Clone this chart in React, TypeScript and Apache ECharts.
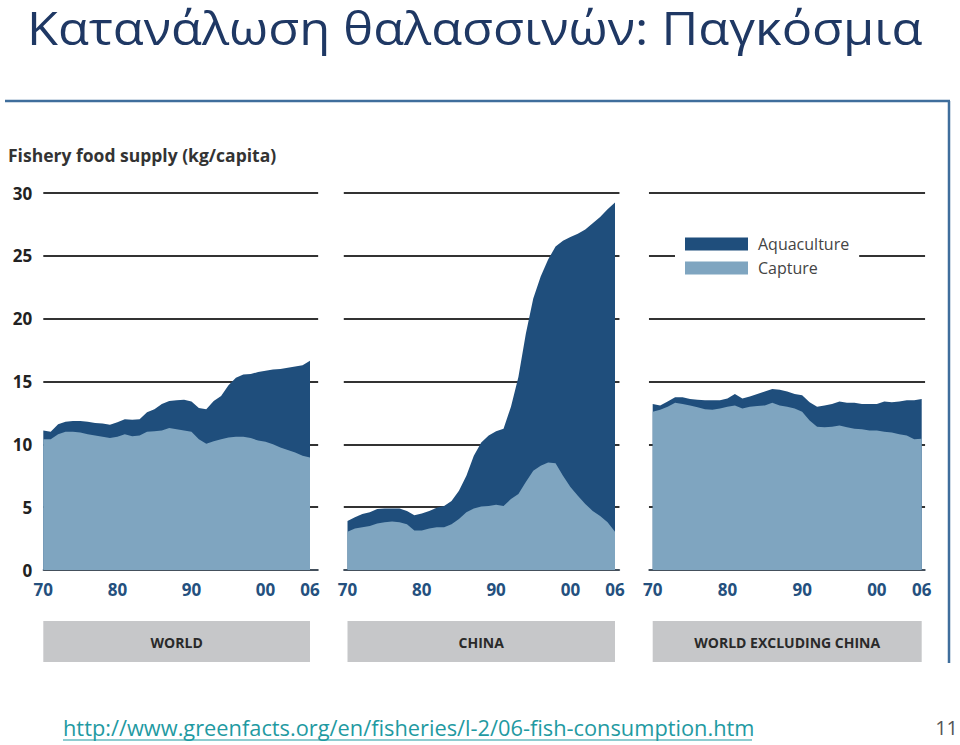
import React, { useEffect, useRef } from "react";
import * as echarts from "echarts";

const YEARS: number[] = Array.from({ length: 37 }, (_, i) => 1970 + i);
const TICK_YEARS = [1970, 1980, 1990, 2000, 2006];
const Y_TICKS = [0, 5, 10, 15, 20, 25, 30];

const PANEL_NAMES = ["WORLD", "CHINA", "WORLD EXCLUDING CHINA"];

// Total supply (capture + aquaculture), kg/capita
const worldTotal = [11.1, 11.0, 11.6, 11.8, 11.85, 11.85, 11.8, 11.7, 11.65, 11.55,
  11.75, 12.0, 11.95, 12.0, 12.55, 12.8, 13.2, 13.45, 13.5, 13.55,
  13.4, 12.9, 12.8, 13.45, 13.85, 14.7, 15.3, 15.55, 15.6, 15.75,
  15.85, 15.95, 16.0, 16.1, 16.2, 16.3, 16.65];
const worldCapture = [10.4, 10.4, 10.8, 11.0, 11.0, 10.95, 10.8, 10.7, 10.6, 10.5,
  10.6, 10.8, 10.65, 10.7, 11.0, 11.05, 11.1, 11.3, 11.2, 11.1,
  11.0, 10.4, 10.05, 10.25, 10.4, 10.55, 10.6, 10.6, 10.5, 10.3,
  10.2, 10.0, 9.75, 9.55, 9.35, 9.1, 8.95];

const chinaTotal = [3.9, 4.2, 4.45, 4.6, 4.85, 4.9, 4.9, 4.9, 4.7, 4.35,
  4.5, 4.7, 4.95, 5.1, 5.5, 6.3, 7.5, 9.1, 10.15, 10.7,
  11.05, 11.25, 13.0, 15.35, 18.8, 21.6, 23.35, 24.7, 25.75, 26.2,
  26.5, 26.75, 27.1, 27.6, 28.1, 28.7, 29.25];
const chinaCapture = [3.05, 3.3, 3.4, 3.5, 3.7, 3.8, 3.85, 3.8, 3.65, 3.15,
  3.15, 3.3, 3.4, 3.4, 3.65, 4.05, 4.6, 4.9, 5.05, 5.1,
  5.2, 5.1, 5.65, 6.05, 7.0, 7.9, 8.3, 8.55, 8.5, 7.5,
  6.6, 5.9, 5.25, 4.7, 4.3, 3.8, 3.05];

const exclTotal = [13.2, 13.1, 13.4, 13.75, 13.75, 13.6, 13.55, 13.5, 13.5, 13.5,
  13.65, 14.0, 13.65, 13.8, 14.0, 14.2, 14.4, 14.35, 14.2, 14.0,
  13.9, 13.35, 13.0, 13.1, 13.2, 13.4, 13.3, 13.3, 13.2, 13.2,
  13.2, 13.4, 13.35, 13.4, 13.5, 13.5, 13.6];
const exclCapture = [12.6, 12.75, 13.0, 13.3, 13.2, 13.1, 12.95, 12.8, 12.75, 12.85,
  13.0, 13.1, 12.85, 13.0, 13.05, 13.1, 13.3, 13.1, 13.0, 12.85,
  12.6, 11.9, 11.4, 11.35, 11.4, 11.5, 11.35, 11.25, 11.2, 11.1,
  11.1, 11.0, 10.95, 10.8, 10.7, 10.4, 10.45];

const TOTALS = [worldTotal, chinaTotal, exclTotal];
const CAPTURES = [worldCapture, chinaCapture, exclCapture];

// layout
const X70 = [43.3, 347.5, 652.7];
const X06 = [310, 615, 921.7];
const XMIN = [1970, 1969.5, 1969.5];
const XMAX = [2007.1, 2006.6, 2006.45];
const GRID_TOP = 193;
const GRID_BOTTOM = 570;

const DARK = "#1f4e7c";
const LIGHT = "#7fa5c0";
const FONT = "'Open Sans', 'Noto Sans', sans-serif";

export default function App() {
  const ref = useRef<HTMLDivElement>(null);

  useEffect(() => {
    if (!ref.current) return;
    const chart = echarts.init(ref.current, undefined, { renderer: "svg" });

    const grids: any[] = [];
    const xAxes: any[] = [];
    const yAxes: any[] = [];
    const series: any[] = [];
    const graphics: any[] = [];

    for (let i = 0; i < 3; i++) {
      const ppy = (X06[i] - X70[i]) / 36;
      const left = X70[i] - (1970 - XMIN[i]) * ppy;
      const width = (XMAX[i] - XMIN[i]) * ppy;
      grids.push({ left, top: GRID_TOP, width, height: GRID_BOTTOM - GRID_TOP });
      xAxes.push({
        type: "value",
        gridIndex: i,
        min: XMIN[i],
        max: XMAX[i],
        axisLine: { show: true, onZero: false, lineStyle: { color: "#4b5b6b", width: 1.5 } },
        axisTick: { show: false },
        splitLine: { show: false },
        axisLabel: {
          customValues: TICK_YEARS,
          formatter: (v: number) => String(Math.round(v)).slice(2),
          color: "#24507e",
          fontWeight: "bold",
          fontSize: 17,
          fontFamily: FONT,
          margin: 11,
        },
      });
      yAxes.push({
        type: "value",
        gridIndex: i,
        min: 0,
        max: 30,
        interval: 5,
        axisLine: { show: false },
        axisTick: { show: false },
        splitLine: { show: true, lineStyle: { color: "#333", width: 2 } },
        axisLabel: {
          show: i === 0,
          color: "#222",
          fontWeight: "bold",
          fontSize: 17,
          fontFamily: FONT,
          margin: 11,
          customValues: Y_TICKS,
        },
      });
      series.push({
        name: "Aquaculture",
        type: "line",
        xAxisIndex: i,
        yAxisIndex: i,
        data: YEARS.map((y, k) => [y, TOTALS[i][k]]),
        showSymbol: false,
        symbol: "none",
        color: DARK,
        lineStyle: { width: 0, color: DARK },
        itemStyle: { color: DARK },
        areaStyle: { color: DARK, opacity: 1 },
        z: 2,
      });
      series.push({
        name: "Capture",
        type: "line",
        xAxisIndex: i,
        yAxisIndex: i,
        data: YEARS.map((y, k) => [y, CAPTURES[i][k]]),
        showSymbol: false,
        symbol: "none",
        color: LIGHT,
        lineStyle: { width: 0, color: LIGHT },
        itemStyle: { color: LIGHT },
        areaStyle: { color: LIGHT, opacity: 1 },
        z: 3,
      });
      graphics.push({
        type: "rect",
        shape: { x: X70[i], y: 621, width: X06[i] - X70[i], height: 41 },
        style: { fill: "#c6c7c9" },
      });
      graphics.push({
        type: "text",
        x: (X70[i] + X06[i]) / 2,
        y: 642,
        style: {
          text: PANEL_NAMES[i],
          fill: "#2a2a2a",
          font: `bold 14px ${FONT}`,
          textAlign: "center",
          textVerticalAlign: "middle",
        },
      });
    }

    graphics.push(
      {
        type: "text",
        x: 27,
        y: 27,
        scaleX: 1.1,
        style: {
          text: "Κατανάλωση θαλασσινών: Παγκόσμια",
          fill: "#1f3864",
          font: `46px ${FONT}`,
          lineHeight: 46,
          textVerticalAlign: "middle",
        },
      },
      {
        type: "line",
        shape: { x1: 5, y1: 101, x2: 950, y2: 101 },
        style: { stroke: "#3f6e9c", lineWidth: 2.5 },
      },
      {
        type: "line",
        shape: { x1: 949, y1: 101, x2: 949, y2: 663 },
        style: { stroke: "#3f6e9c", lineWidth: 2.5 },
      },
      {
        type: "text",
        x: 8,
        y: 155,
        style: {
          text: "Fishery food supply (kg/capita)",
          fill: "#333",
          font: `bold 17.5px ${FONT}`,
          textVerticalAlign: "middle",
        },
      },
      {
        type: "text",
        x: 63,
        y: 727,
        style: {
          text: "http://www.greenfacts.org/en/fisheries/l-2/06-fish-consumption.htm",
          fill: "#1f9aa2",
          font: `21.8px ${FONT}`,
          textVerticalAlign: "middle",
        },
      },
      {
        type: "line",
        shape: { x1: 63, y1: 740, x2: 752, y2: 740 },
        style: { stroke: "#1f9aa2", lineWidth: 1.2 },
      },
      {
        type: "text",
        x: 958,
        y: 727,
        style: {
          text: "11",
          fill: "#555",
          font: `20px ${FONT}`,
          textAlign: "right",
          textVerticalAlign: "middle",
        },
      }
    );

    chart.setOption({
      animation: false,
      backgroundColor: "#fff",
      grid: grids,
      xAxis: xAxes,
      yAxis: yAxes,
      series,
      legend: {
        data: ["Aquaculture", "Capture"],
        orient: "vertical",
        left: 675,
        top: 230,
        backgroundColor: "#fff",
        padding: [6, 10, 6, 10],
        icon: "rect",
        itemWidth: 63,
        itemHeight: 13,
        itemGap: 8,
        selectedMode: false,
        textStyle: { fontSize: 16, color: "#444", fontFamily: FONT, padding: [0, 0, 0, 5] },
      },
      graphic: graphics,
    });

    return () => chart.dispose();
  }, []);

  return (
    <div
      ref={ref}
      style={{ position: "fixed", left: 0, top: 0, width: 960, height: 745, background: "#fff" }}
    />
  );
}
